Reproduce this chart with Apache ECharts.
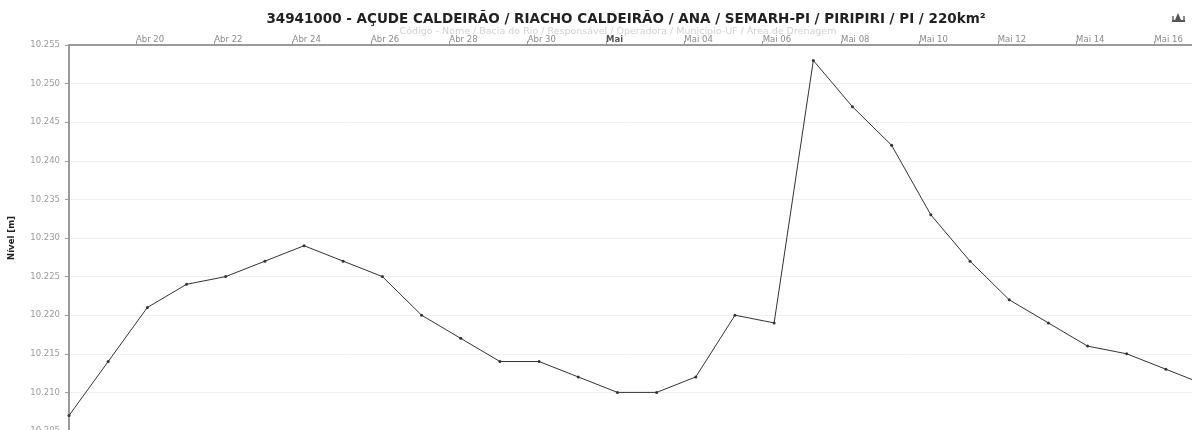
<!DOCTYPE html>
<html>
<head>
<meta charset="utf-8">
<script src="https://cdn.jsdelivr.net/npm/echarts@6/dist/echarts.min.js"></script>
<style>
html,body{margin:0;padding:0;background:#fff;}
#c{width:1192px;height:430px;}
</style>
</head>
<body>
<div id="c"></div>
<script>
// ---- data ----
const dates = [
  '2025-04-18','2025-04-19','2025-04-20','2025-04-21','2025-04-22','2025-04-23','2025-04-24',
  '2025-04-25','2025-04-26','2025-04-27','2025-04-28','2025-04-29','2025-04-30','2025-05-01',
  '2025-05-02','2025-05-03','2025-05-04','2025-05-05','2025-05-06','2025-05-07','2025-05-08',
  '2025-05-09','2025-05-10','2025-05-11','2025-05-12','2025-05-13','2025-05-14','2025-05-15',
  '2025-05-16','2025-05-17'
];
const readingHour = 7;
const levels = [
  10.207, 10.214, 10.221, 10.224, 10.225, 10.227, 10.229,
  10.227, 10.225, 10.220, 10.217, 10.214, 10.214, 10.212,
  10.210, 10.210, 10.212, 10.220, 10.219, 10.253, 10.247,
  10.242, 10.233, 10.227, 10.222, 10.219, 10.216, 10.215,
  10.213, 10.211
];
const tickDates = ['2025-04-20','2025-04-22','2025-04-24','2025-04-26','2025-04-28','2025-04-30',
  '2025-05-02','2025-05-04','2025-05-06','2025-05-08','2025-05-10','2025-05-12','2025-05-14','2025-05-16'];
const tickLabels = ['Abr 20','Abr 22','Abr 24','Abr 26','Abr 28','Abr 30','Mai',
  'Mai 04','Mai 06','Mai 08','Mai 10','Mai 12','Mai 14','Mai 16'];
const viewEnd = '2025-05-16';
const viewEndHour = 23;
const titleText = '34941000 - AÇUDE CALDEIRÃO / RIACHO CALDEIRÃO / ANA / SEMARH-PI / PIRIPIRI / PI / 220km²';
const subText = 'Código - Nome / Bacia do Rio / Responsável / Operadora / Município-UF / Área de Drenagem';
const yName = 'Nível [m]';

// days since first date (midnight), as x values
function dayOf(d, h) {
  const p = d.split('-').map(Number);
  const q = dates[0].split('-').map(Number);
  const a = Date.UTC(p[0], p[1] - 1, p[2], h || 0);
  const b = Date.UTC(q[0], q[1] - 1, q[2], 0);
  return (a - b) / 86400000;
}
const seriesData = dates.map((d, i) => [dayOf(d, readingHour), levels[i]]);
const tickVals = tickDates.map(d => dayOf(d, 0));
const labelMap = {};
tickVals.forEach((v, i) => { labelMap[v] = tickLabels[i]; });

const chart = echarts.init(document.getElementById('c'), null, {renderer: 'canvas'});
chart.setOption({
  animation: false,
  backgroundColor: '#fff',
  title: [{
    text: titleText,
    left: 621, top: 7, textAlign: 'center',
    textStyle: {fontFamily: 'DejaVu Sans', fontWeight: 'bold', fontSize: 13.5, color: '#222'}
  }, {
    text: subText,
    left: 613, top: 22, textAlign: 'center',
    textStyle: {fontFamily: 'DejaVu Sans', fontWeight: 'normal', fontSize: 9.5, color: '#d2d2d2'}
  }],
  graphic: [{
    type: 'group', left: 1172, top: 13,
    children: [
      {type: 'polygon', shape: {points: [[6, 0], [9, 7], [3, 7]]}, style: {fill: '#555'}},
      {type: 'rect', shape: {x: 0, y: 7, width: 13, height: 2}, style: {fill: '#555'}},
      {type: 'rect', shape: {x: 0, y: 3, width: 2, height: 4}, style: {fill: '#888'}},
      {type: 'rect', shape: {x: 11, y: 3, width: 2, height: 4}, style: {fill: '#888'}}
    ]
  }],
  grid: {left: 69, top: 45, right: 0, bottom: -1, containLabel: false, outerBoundsMode: 'none'},
  xAxis: {
    type: 'value',
    position: 'top',
    min: seriesData[0][0],
    max: dayOf(viewEnd, viewEndHour),
    axisLine: {show: true, onZero: false, lineStyle: {color: '#9a9a9a', width: 2}},
    axisTick: {show: true, customValues: tickVals, length: 4, lineStyle: {color: '#9a9a9a'}},
    axisLabel: {
      customValues: tickVals,
      align: 'left',
      margin: 1,
      fontFamily: 'DejaVu Sans',
      fontSize: 8.5,
      color: '#8a8a8a',
      formatter: function (v) {
        const t = labelMap[v] || '';
        return t === 'Mai' ? '{b|' + t + '}' : t;
      },
      rich: {b: {fontWeight: 'bold', fontSize: 8.5, color: '#555', fontFamily: 'DejaVu Sans'}}
    },
    splitLine: {show: false}
  },
  yAxis: {
    type: 'value',
    min: 10.205,
    max: 10.255,
    interval: 0.005,
    name: yName,
    nameLocation: 'middle',
    nameRotate: 90,
    nameGap: 53,
    nameTextStyle: {fontFamily: 'DejaVu Sans', fontWeight: 'bold', fontSize: 8.5, color: '#222'},
    axisLine: {show: true, lineStyle: {color: '#9a9a9a', width: 2}},
    axisTick: {show: true, length: 4, lineStyle: {color: '#9a9a9a'}},
    axisLabel: {
      margin: 9,
      fontFamily: 'DejaVu Sans',
      fontSize: 8.5,
      color: '#9a9a9a',
      formatter: v => v.toFixed(3)
    },
    splitLine: {show: true, lineStyle: {color: '#f0f0f0', width: 1}}
  },
  series: [{
    type: 'line',
    data: seriesData,
    showSymbol: true,
    symbol: 'circle',
    symbolSize: 3,
    itemStyle: {color: '#333'},
    lineStyle: {color: '#333', width: 1},
    clip: true
  }]
});
</script>
</body>
</html>
